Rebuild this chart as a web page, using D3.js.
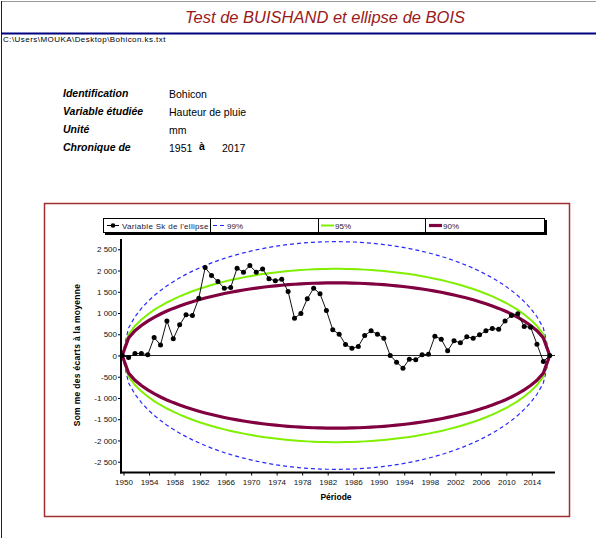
<!DOCTYPE html>
<html>
<head>
<meta charset="utf-8">
<script src="https://cdn.jsdelivr.net/npm/d3@7"></script>
<style>
  body { margin: 0; background: #fff; }
  svg { display: block; font-family: Arial, "Liberation Sans", sans-serif; }
</style>
</head>
<body>
<div class="page"></div>
<script>
// cumulative deviations Sk, k = 0 .. 67 (1950 .. 2017)
var years = d3.range(1950, 2018);
var sk = [0, -47, 47, 47, 16, 423, 250, 815, 392, 721, 957, 941, 1349, 2070, 1882, 1741,
  1584, 1600, 2055, 1961, 2118, 1961, 2039, 1804, 1757, 1796, 1506, 878, 988, 1333, 1584,
  1451, 1059, 604, 502, 259, 173, 212, 471, 580, 502, 408, 0, -157, -298, -86, -102, 16,
  31, 455, 384, 110, 345, 298, 439, 408, 486, 580, 635, 620, 815, 941, 980, 682, 667, 267,
  -141, 0];

// half heights of the Bois ellipses
var levels = ["99%", "95%", "90%"];
var amplitudes = [2680, 2040, 1710];
var levelColors = ["#2a2aff", "#80f000", "#800040"];

var yTicks = [2500, 2000, 1500, 1000, 500, 0, -500, -1000, -1500, -2000, -2500];
var xTicks = d3.range(1950, 2015, 4);

var infoLabels = ["Identification", "Variable étudiée", "Unité", "Chronique de"];
var infoValues = ["Bohicon", "Hauteur de pluie", "mm", "1951"];

var W = 596, H = 538;

(function(){

  var svg = d3.select(".page").append("svg")
    .attr("width", W)
    .attr("height", H);

  // page frame
  svg.append("line").attr("x1", 1).attr("x2", W).attr("y1", 1.5).attr("y2", 1.5)
    .style("stroke", "#999").style("stroke-width", 1);
  svg.append("line").attr("x1", 1.5).attr("x2", 1.5).attr("y1", 1).attr("y2", H)
    .style("stroke", "#222").style("stroke-width", 1);

  svg.append("text")
    .attr("x", 325).attr("y", 23)
    .attr("text-anchor", "middle")
    .style("font-size", "16.5px").style("font-style", "italic")
    .style("fill", "#9a1a1a")
    .text("Test de BUISHAND et ellipse de BOIS");

  svg.append("line").attr("x1", 1).attr("x2", W).attr("y1", 33.5).attr("y2", 33.5)
    .style("stroke", "#000080").style("stroke-width", 2);

  svg.append("text")
    .attr("x", 3).attr("y", 42)
    .style("font-size", "8px")
    .style("letter-spacing", "0.45px")
    .text("C:\\Users\\MOUKA\\Desktop\\Bohicon.ks.txt");

  // info block
  var info = svg.append("g");
  infoLabels.forEach(function(l, i){
    info.append("text")
      .attr("x", 63).attr("y", 97 + i * 18)
      .style("font-size", "10.5px").style("font-weight", "bold").style("font-style", "italic")
      .text(l);
    info.append("text")
      .attr("x", 169).attr("y", 98 + i * 18)
      .style("font-size", "10.5px")
      .text(infoValues[i]);
  });
  info.append("text").attr("x", 199).attr("y", 150)
    .style("font-size", "10.5px").style("font-weight", "bold").text("à");
  info.append("text").attr("x", 222).attr("y", 152)
    .style("font-size", "10.5px").text("2017");

  // chart frame
  svg.append("rect")
    .attr("x", 44.5).attr("y", 203.5)
    .attr("width", 525).attr("height", 313)
    .style("fill", "none").style("stroke", "#a03030").style("stroke-width", 1.5);

  var x = d3.scaleLinear().domain([1950, 2017]).range([123.5, 551]);
  var y = d3.scaleLinear().domain([-2500, 2500]).range([461.7, 249.3]);

  // ellipses
  var n = sk.length - 1;
  var line = d3.line().x(function(d){ return x(d[0]) }).y(function(d){ return y(d[1]) });

  amplitudes.forEach(function(a, i){
    var upper = years.map(function(yr, k){ return [yr - 0.2, a * Math.sqrt(4 * k * (n - k) / (n * n))] });
    var lower = upper.map(function(d){ return [d[0], -d[1]] });
    [upper, lower].forEach(function(pts){
      svg.append("path")
        .attr("d", line(pts))
        .style("fill", "none")
        .style("stroke", levelColors[i])
        .style("stroke-width", i == 0 ? 1.2 : (i == 1 ? 2 : 3.2))
        .style("stroke-dasharray", i == 0 ? "4,3" : null);
    });
  });

  // zero line
  svg.append("line")
    .attr("x1", 121).attr("x2", 555)
    .attr("y1", y(0)).attr("y2", y(0))
    .style("stroke", "#222").style("stroke-width", 1);

  // data
  var pts = years.map(function(yr, k){ return [yr - 0.2, sk[k]] });
  svg.append("path")
    .attr("d", line(pts))
    .style("fill", "none").style("stroke", "#111").style("stroke-width", 1);
  svg.selectAll(".pt")
    .data(pts)
    .enter().append("circle")
    .attr("class", "pt")
    .attr("cx", function(d){ return x(d[0]) })
    .attr("cy", function(d){ return y(d[1]) })
    .attr("r", 2.5)
    .attr("fill", "#000");

  // axes
  var fmt = function(v){ return d3.format(",")(v).replace(/,/g, " ").replace("−", "-") };

  var yAxis = svg.append("g")
    .attr("transform", "translate(121,0)")
    .call(d3.axisLeft(y).tickValues(yTicks).tickSize(3).tickPadding(1).tickFormat(fmt));
  yAxis.select(".domain").remove();
  yAxis.selectAll("text").style("font-size", "8px").style("font-family", "Arial, sans-serif").attr("fill", "#111");

  var xAxis = svg.append("g")
    .attr("transform", "translate(0,472.5)")
    .call(d3.axisBottom(x).tickValues(xTicks).tickSize(3).tickPadding(4).tickFormat(d3.format("d")));
  xAxis.select(".domain").remove();
  xAxis.selectAll("text").style("font-size", "8px").style("font-family", "Arial, sans-serif").attr("fill", "#111");

  svg.append("line").attr("x1", 121).attr("x2", 121).attr("y1", 239).attr("y2", 473.5)
    .style("stroke", "#000").style("stroke-width", 2);
  svg.append("line").attr("x1", 120).attr("x2", 555).attr("y1", 472.5).attr("y2", 472.5)
    .style("stroke", "#000").style("stroke-width", 2);

  svg.append("text")
    .attr("x", 336).attr("y", 500)
    .attr("text-anchor", "middle")
    .style("font-size", "8.5px").style("font-weight", "bold")
    .text("Période");

  svg.append("text")
    .attr("transform", "translate(80,355) rotate(-90)")
    .attr("text-anchor", "middle")
    .style("font-size", "8.5px").style("font-weight", "bold")
    .style("letter-spacing", "0.3px")
    .text("Som me des écarts à la moyenne");

  // legend
  var lg = svg.append("g");
  lg.append("rect").attr("x", 105).attr("y", 220).attr("width", 442).attr("height", 15).style("fill", "#000");
  lg.append("rect").attr("x", 103.5).attr("y", 218.5).attr("width", 441).attr("height", 14)
    .style("fill", "#fff").style("stroke", "#000").style("stroke-width", 1);
  [210.5, 318.5, 425.5].forEach(function(cx){
    lg.append("line").attr("x1", cx).attr("x2", cx).attr("y1", 218.5).attr("y2", 232.5)
      .style("stroke", "#000").style("stroke-width", 1);
  });
  lg.append("line").attr("x1", 107).attr("x2", 119).attr("y1", 225.5).attr("y2", 225.5)
    .style("stroke", "#000").style("stroke-width", 1);
  lg.append("circle").attr("cx", 113).attr("cy", 225.5).attr("r", 2.3).attr("fill", "#000");
  lg.append("text").attr("x", 122).attr("y", 228.5).style("font-size", "8px").style("fill", "#202040")
    .style("letter-spacing", "0.3px")
    .text("Variable Sk de l'ellipse");

  var legX = [213, 321, 429];
  levels.forEach(function(l, i){
    lg.append("line").attr("x1", legX[i]).attr("x2", legX[i] + 13).attr("y1", 225.5).attr("y2", 225.5)
      .style("stroke", levelColors[i])
      .style("stroke-width", i == 0 ? 1.2 : (i == 1 ? 2 : 3.2))
      .style("stroke-dasharray", i == 0 ? "4,3" : null);
    lg.append("text").attr("x", legX[i] + 14).attr("y", 228.5).style("font-size", "8px").style("fill", "#202040")
      .text(l);
  });

})();
</script>
</body>
</html>
